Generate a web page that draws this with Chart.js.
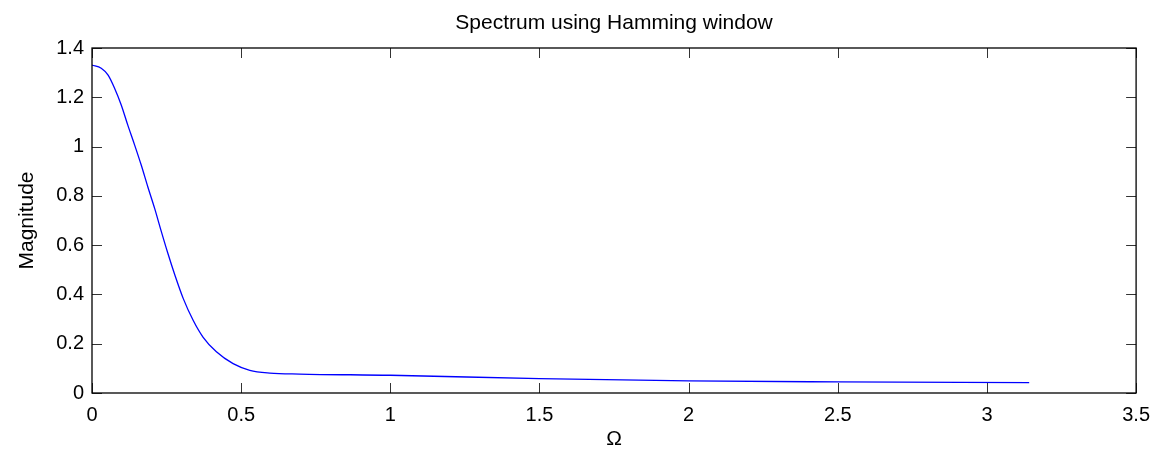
<!DOCTYPE html>
<html>
<head>
<meta charset="utf-8">
<script src="https://cdn.jsdelivr.net/npm/chart.js@4/dist/chart.umd.min.js"></script>
<style>
  html, body { margin: 0; padding: 0; background: #fff; }
  #wrap { width: 1160px; height: 454px; }
</style>
</head>
<body>
<div id="wrap"><canvas id="spectrum" width="1160" height="454"></canvas></div>
<script>
// Frequency (rad/sample) and magnitude samples of the windowed spectrum
const omega = [0, 0.031, 0.054, 0.076, 0.098, 0.12, 0.143, 0.165, 0.187, 0.21, 0.23, 0.254,
  0.278, 0.306, 0.339, 0.372, 0.417, 0.473, 0.529, 0.596, 0.696, 1.0, 1.5, 2.0, 2.5, 3.1416];
const magnitude = [1.331, 1.318, 1.29, 1.236, 1.169, 1.087, 1.006, 0.925, 0.837, 0.749, 0.665, 0.568,
  0.478, 0.383, 0.295, 0.227, 0.167, 0.119, 0.092, 0.081, 0.077, 0.072, 0.058, 0.049, 0.045, 0.042];

const xTicks = [0, 0.5, 1, 1.5, 2, 2.5, 3, 3.5];
const yTicks = [0, 0.2, 0.4, 0.6, 0.8, 1, 1.2, 1.4];

const FONT = "'Liberation Sans', Arial, Helvetica, sans-serif";

// MATLAB-style frame: full box with inward tick marks on all four sides
const boxPlugin = {
  id: "box",
  afterDatasetsDraw(chart) {
    const { ctx, chartArea: a, scales } = chart;
    const len = 10;
    ctx.save();
    ctx.strokeStyle = "#333";
    ctx.lineWidth = 1;
    ctx.beginPath();
    xTicks.forEach((v) => {
      const px = Math.round(scales.x.getPixelForValue(v)) + 0.5;
      ctx.moveTo(px, a.bottom); ctx.lineTo(px, a.bottom - len);
      ctx.moveTo(px, a.top); ctx.lineTo(px, a.top + len);
    });
    yTicks.forEach((v) => {
      const py = Math.round(scales.y.getPixelForValue(v)) + 0.5;
      ctx.moveTo(a.left, py); ctx.lineTo(a.left + len, py);
      ctx.moveTo(a.right, py); ctx.lineTo(a.right - len, py);
    });
    ctx.stroke();
    ctx.strokeStyle = "#000";
    ctx.lineWidth = 1.3;
    ctx.strokeRect(a.left, a.top, a.right - a.left, a.bottom - a.top);
    ctx.restore();
  },
};

const fmt = (v) => String(+v.toFixed(2));

new Chart(document.getElementById("spectrum"), {
  type: "line",
  data: {
    datasets: [
      {
        data: omega.map((x, i) => ({ x, y: magnitude[i] })),
        borderColor: "#0000ff",
        borderWidth: 1.3,
        pointRadius: 0,
        cubicInterpolationMode: "monotone",
        fill: false,
      },
    ],
  },
  options: {
    responsive: false,
    animation: false,
    layout: { padding: { left: 0, right: 22, top: 0, bottom: 0 } },
    plugins: {
      legend: { display: false },
      tooltip: { enabled: false },
      title: {
        display: true,
        fullSize: false,
        text: "Spectrum using Hamming window",
        color: "#000",
        font: { family: FONT, size: 21, weight: "normal" },
        padding: { top: 10.4, bottom: 12.4 },
      },
    },
    scales: {
      x: {
        type: "linear",
        min: 0,
        max: 3.5,
        afterBuildTicks: (s) => { s.ticks = xTicks.map((value) => ({ value })); },
        afterFit: (s) => { s.height = 61; },
        grid: { display: false, drawTicks: false },
        border: { display: false },
        ticks: {
          color: "#000",
          padding: 10,
          maxRotation: 0,
          font: { family: FONT, size: 20 },
          callback: fmt,
        },
        title: {
          display: true,
          text: "Ω",
          color: "#000",
          font: { family: FONT, size: 21 },
          padding: { top: 0, bottom: 2 },
        },
      },
      y: {
        min: 0,
        max: 1.4,
        afterBuildTicks: (s) => { s.ticks = yTicks.map((value) => ({ value })); },
        afterFit: (s) => { s.width = 92; },
        grid: { display: false, drawTicks: false },
        border: { display: false },
        ticks: {
          color: "#000",
          padding: 8,
          font: { family: FONT, size: 20 },
          callback: fmt,
        },
        title: {
          display: true,
          text: "Magnitude",
          color: "#000",
          font: { family: FONT, size: 21 },
          padding: { top: 15, bottom: 0 },
        },
      },
    },
  },
  plugins: [boxPlugin],
});
</script>
</body>
</html>
